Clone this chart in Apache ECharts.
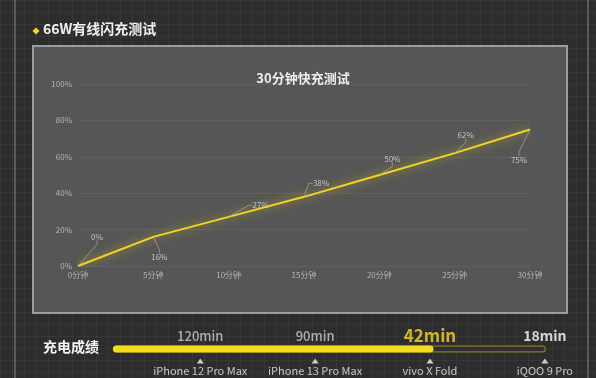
<!DOCTYPE html>
<html>
<head>
<meta charset="utf-8">
<script src="https://cdn.jsdelivr.net/npm/echarts@6/dist/echarts.min.js"></script>
<style>
html,body{margin:0;padding:0;}
#c{width:596px;height:378px;
background-color:#2d2d2d;
background-image:linear-gradient(rgba(255,255,255,0.045) 1px, transparent 1px),linear-gradient(90deg, rgba(255,255,255,0.045) 1px, transparent 1px);
background-size:12px 12px;}
</style>
</head>
<body>
<div id="c"></div>
<script>
// ---- data ----
const timeLabels = ['0分钟','5分钟','10分钟','15分钟','20分钟','25分钟','30分钟'];
const chargePercent = [0, 16, 27, 38, 50, 62, 75];
const yTicks = [0, 20, 40, 60, 80, 100];
const devices = ['iPhone 12 Pro Max','iPhone 13 Pro Max','vivo X Fold','iQOO 9 Pro'];
const fullChargeMinutes = [120, 90, 42, 18];
const highlightDevice = 2;
const chartTitle = '30分钟快充测试';
const sectionTitle = '66W有线闪充测试';
const scoreTitle = '充电成绩';

// label offsets (styling only)
const labelShift = [[19,-30],[6,20],[32,-12],[17,-14],[13,-17],[11,-19],[-11,30]];

const font = '"Noto Sans CJK SC","Noto Sans",sans-serif';
const chart = echarts.init(document.getElementById('c'));

const xMin = -0.76, xMax = 3.01;

const minuteStyles = fullChargeMinutes.map((m, i) => {
  if (i === highlightDevice) return {color:'#f7dc1c', fontSize:17, fontWeight:'bold', distance:5};
  if (i === devices.length - 1) return {color:'#ffffff', fontSize:14, fontWeight:'bold', distance:6};
  return {color:'#cfcfcf', fontSize:13, fontWeight:500, distance:6};
});

chart.setOption({
  animation: false,
  title: {
    text: chartTitle, left: 298, top: 67, textAlign: 'center',
    textStyle: {color:'#eeeeee', fontSize:13, fontWeight:'bold', fontFamily:font}
  },
  graphic: [
    {type:'rect', z:-10, shape:{x:33,y:46,width:534,height:267}, style:{fill:'#565656', stroke:'#9c9c9c', lineWidth:2}},
    {type:'line', z:-10, shape:{x1:15,y1:0,x2:15,y2:378}, style:{stroke:'#5a5a5a', lineWidth:2}},
    {type:'line', z:-10, shape:{x1:588,y1:0,x2:588,y2:378}, style:{stroke:'#5a5a5a', lineWidth:2}},
    {type:'polygon', shape:{points:[[36,27.5],[39.5,31],[36,34.5],[32.5,31]]}, style:{fill:'#f5d820'}},
    {type:'text', left:43, top:22, style:{text:sectionTitle, fill:'#f0f0f0', font:'bold 14px '+font}},
    {type:'text', left:43, top:340, style:{text:scoreTitle, fill:'#f4f4f4', font:'bold 14px '+font}}
  ],
  grid: [
    {left:78, right:66, top:84, bottom:112},
    {left:113, right:50, top:329, height:40}
  ],
  xAxis: [
    {gridIndex:0, type:'category', data:timeLabels, boundaryGap:false,
     axisLine:{show:false}, axisTick:{show:false},
     axisLabel:{color:'#b4b4b4', fontSize:8, margin:5, fontFamily:font}},
    {gridIndex:1, type:'value', min:xMin, max:xMax, show:false}
  ],
  yAxis: [
    {gridIndex:0, type:'value', min:yTicks[0], max:yTicks[yTicks.length-1], interval:20,
     axisLine:{show:false}, axisTick:{show:false},
     axisLabel:{color:'#b4b4b4', fontSize:8, margin:6, formatter:'{value}%', fontFamily:font},
     splitLine:{lineStyle:{color:'#606060', width:1}}},
    {gridIndex:1, type:'value', min:-2, max:2, show:false}
  ],
  series: [
    {
      type:'line', xAxisIndex:0, yAxisIndex:0, data:chargePercent,
      symbol:'circle', symbolSize:1, showSymbol:true, itemStyle:{color:'rgba(0,0,0,0)'},
      lineStyle:{color:'#f2d424', width:2, shadowColor:'rgba(215,200,30,0.85)', shadowBlur:10},
      label:{show:true, formatter:'{c}%', color:'#c4c4c4', fontSize:8, fontFamily:font, position:'top', distance:0},
      labelLine:{show:true, length2:4, lineStyle:{color:'#a0a0a0', width:0.8}},
      labelLayout: function (p) { const s = labelShift[p.dataIndex]; return {dx:s[0], dy:s[1] + 5}; }
    },
    // progress track
    {type:'line', xAxisIndex:1, yAxisIndex:1, data:[[xMin+0.03,0],[xMax-0.03,0]], symbol:'none', silent:true,
     lineStyle:{color:'#8a7a22', width:7, cap:'round'}},
    {type:'line', xAxisIndex:1, yAxisIndex:1, data:[[xMin+0.03,0],[xMax-0.03,0]], symbol:'none', silent:true,
     lineStyle:{color:'#2f2f2f', width:4.5, cap:'round'}},
    // progress fill up to highlighted device
    {type:'line', xAxisIndex:1, yAxisIndex:1, data:[[xMin+0.03,0],[highlightDevice,0]], symbol:'none', silent:true,
     lineStyle:{color:'#f5dc1a', width:7, cap:'round'}},
    // device markers
    {type:'scatter', xAxisIndex:1, yAxisIndex:1, clip:false, symbol:'triangle', symbolSize:[7,5],
     itemStyle:{color:'#f2f2f2'},
     data: devices.map((d, i) => ({value:[i, -1.2], name:d})),
     label:{show:true, position:'bottom', distance:2, formatter:'{b}', color:'#ececec', fontSize:11, fontFamily:font}},
    // minute labels
    {type:'scatter', xAxisIndex:1, yAxisIndex:1, clip:false, symbol:'circle', symbolSize:0,
     data: fullChargeMinutes.map((m, i) => ({
       value:[i, 0],
       label:{show:true, position:'top', formatter: m + 'min', fontFamily:font,
              color:minuteStyles[i].color, fontSize:minuteStyles[i].fontSize,
              fontWeight:minuteStyles[i].fontWeight, distance:minuteStyles[i].distance}
     }))}
  ]
});
</script>
</body>
</html>
